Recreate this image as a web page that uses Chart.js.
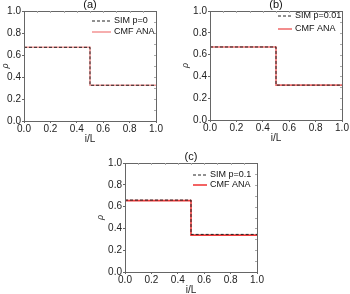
<!DOCTYPE html>
<html><head><meta charset="utf-8">
<script src="https://cdn.jsdelivr.net/npm/chart.js@4.4.0/dist/chart.umd.min.js"></script>
<style>
html,body{margin:0;padding:0;background:#fff;width:350px;height:294px;overflow:hidden;position:relative}
canvas{position:absolute}
</style></head><body>
<canvas id="ca"></canvas><canvas id="cb"></canvas><canvas id="cc"></canvas>
<script>
// Data
const xSteps = [0, 0.5, 0.5, 1.0];
const simA = [0.67, 0.67, 0.325, 0.325];
const anaA = [0.67, 0.67, 0.325, 0.325];
const simB = [0.67, 0.67, 0.32, 0.32];
const anaB = [0.67, 0.67, 0.32, 0.32];
const simC = [0.66, 0.66, 0.345, 0.345];
const anaC = [0.655, 0.655, 0.338, 0.338];
const xTicks = [0, 0.2, 0.4, 0.6, 0.8, 1.0];
const yTicks = [0, 0.2, 0.4, 0.6, 0.8, 1.0];
const panelLabels = ['(a)', '(b)', '(c)'];
const simLabels = ['SIM p=0', 'SIM p=0.01', 'SIM p=0.1'];
const anaLabel = 'CMF ANA';
const xTitle = 'i/L';
const yTitle = 'ρ';

const FONT = "'Liberation Sans', Arial, sans-serif";

function pts(xs, ys){ return xs.map((x,i)=>({x:x, y:ys[i]})); }

function makePanel(id, box, sim, ana, label, simLabel, redColor, leg){
  const yw = box.yw, topPad = 14, xh = 24, rightPad = 8;
  const W = (box.r - box.l) + yw + rightPad;
  const H = (box.b - box.t) + topPad + xh;
  const cv = document.getElementById(id);
  cv.style.left = (box.l - yw) + 'px';
  cv.style.top = (box.t - topPad) + 'px';
  cv.style.width = W + 'px'; cv.style.height = H + 'px';
  cv.width = W; cv.height = H;

  const deco = {
    id: 'deco'+id,
    afterDatasetsDraw(chart){
      const ctx = chart.ctx, a = chart.chartArea;
      ctx.save();
      ctx.strokeStyle = '#666'; ctx.lineWidth = 1;
      ctx.strokeRect(Math.round(a.left)+0.5, Math.round(a.top)+0.5, Math.round(a.right-a.left), Math.round(a.bottom-a.top));
      ctx.strokeStyle = '#aaa';
      const xs = chart.scales.x, ys = chart.scales.y;
      for (let k=1; k<10; k++){
        const v = k/10;
        const px = Math.round(xs.getPixelForValue(v))+0.5;
        ctx.beginPath(); ctx.moveTo(px, a.top); ctx.lineTo(px, a.top+2); ctx.stroke();
        const py = Math.round(ys.getPixelForValue(v))+0.5;
        ctx.beginPath(); ctx.moveTo(a.right, py); ctx.lineTo(a.right-2, py); ctx.stroke();
      }
      ctx.fillStyle = '#111';
      ctx.font = '11px ' + FONT;
      ctx.textAlign = 'center'; ctx.textBaseline = 'bottom';
      ctx.fillText(label, (a.left+a.right)/2, a.top - 1);
      const ds = chart.data.datasets;
      const lx = a.right - leg.dx, rows = [a.top + leg.r1, a.top + leg.r2];
      ctx.font = '9px ' + FONT; ctx.textAlign = 'left'; ctx.textBaseline = 'middle';
      [0,1].forEach(i=>{
        const d = ds[i];
        ctx.strokeStyle = d.borderColor; ctx.lineWidth = d.borderWidth;
        ctx.setLineDash(d.borderDash || []);
        ctx.beginPath(); ctx.moveTo(lx, rows[i]); ctx.lineTo(lx + leg.len, rows[i]); ctx.stroke();
        ctx.setLineDash([]);
        ctx.fillStyle = '#111';
        ctx.fillText(d.label, lx + leg.len + 3, rows[i]);
      });
      ctx.restore();
    }
  };

  return new Chart(cv, {
    type: 'line',
    data: { datasets: [
      { label: simLabel, data: pts(xSteps, sim), borderColor: '#222', borderWidth: 1, borderDash: [3,2], pointRadius: 0, fill: false, tension: 0 },
      { label: anaLabel, data: pts(xSteps, ana), borderColor: redColor, borderWidth: 1.6, pointRadius: 0, fill: false, tension: 0 }
    ]},
    options: {
      responsive: false, animation: false, devicePixelRatio: 1,
      layout: { padding: { top: topPad, right: rightPad, left: 0, bottom: 0 } },
      plugins: { legend: { display: false }, tooltip: { enabled: false }, title: { display: false } },
      scales: {
        x: { type: 'linear', min: 0, max: 1,
          afterBuildTicks: s => { s.ticks = xTicks.map(v=>({value:v})); },
          afterFit: s => { s.height = xh; },
          border: { display: false },
          grid: { drawOnChartArea: false, tickLength: 2, color: '#666' },
          ticks: { color: '#222', font: { family: FONT, size: 10 }, padding: 0, maxRotation: 0, callback: v => v.toFixed(1) },
          title: { display: true, text: xTitle, color: '#222', font: { family: FONT, size: 10 }, padding: { top: -2, bottom: 0 } }
        },
        y: { type: 'linear', min: 0, max: 1,
          afterBuildTicks: s => { s.ticks = yTicks.map(v=>({value:v})); },
          afterFit: s => { s.width = yw; },
          border: { display: false },
          grid: { drawOnChartArea: false, tickLength: 2, color: '#666' },
          ticks: { color: '#222', font: { family: FONT, size: 10 }, padding: 1, callback: v => v.toFixed(1) },
          title: { display: true, text: yTitle, color: '#222', font: { family: FONT, size: 9, style: 'italic' }, padding: 0 }
        }
      }
    },
    plugins: [deco]
  });
}

makePanel('ca', {l:24, t:11, r:156, b:121, yw:24}, simA, anaA, panelLabels[0], simLabels[0], '#f49a9a', {dx:64, r1:10, r2:21, len:19});
makePanel('cb', {l:210, t:11, r:342, b:120, yw:30}, simB, anaB, panelLabels[1], simLabels[1], '#f07070', {dx:64, r1:5, r2:18, len:14});
makePanel('cc', {l:125, t:163, r:257, b:272, yw:30}, simC, anaC, panelLabels[2], simLabels[2], '#f03c3c', {dx:64, r1:12, r2:22, len:14});
</script>
</body></html>
